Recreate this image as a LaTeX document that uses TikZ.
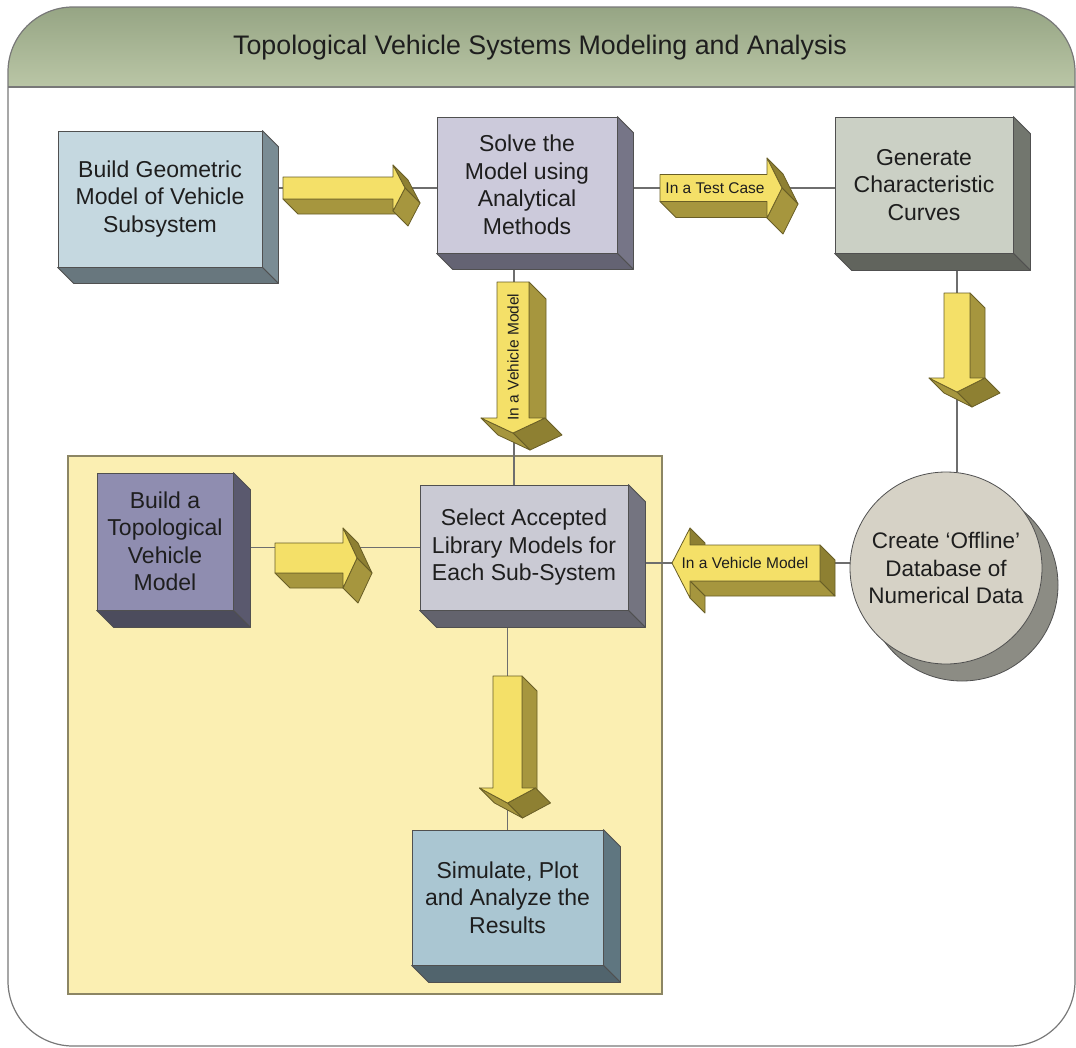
\documentclass[tikz,border=0pt]{standalone}
\usepackage{fontspec}
\setmainfont{Liberation Sans}
\usetikzlibrary{calc,shadows}
\pgfdeclarelayer{bg}
\pgfsetlayers{bg,main}

\definecolor{framegray}{RGB}{120,120,120}
\definecolor{titletop}{RGB}{150,165,132}
\definecolor{titlebot}{RGB}{186,198,166}
\definecolor{panelfill}{RGB}{251,239,178}
\definecolor{paneldraw}{RGB}{140,134,100}
\definecolor{wiregray}{RGB}{110,110,110}
\definecolor{edgegray}{RGB}{80,80,80}
\definecolor{arrowfront}{RGB}{244,224,104}
\definecolor{arrowside}{RGB}{166,150,62}
\definecolor{arrowdark}{RGB}{142,128,50}
\definecolor{arrowline}{RGB}{105,94,38}
\definecolor{buildfill}{RGB}{197,216,224}
\definecolor{buildside}{RGB}{122,140,148}
\definecolor{solvefill}{RGB}{204,202,219}
\definecolor{solveside}{RGB}{118,117,135}
\definecolor{genfill}{RGB}{203,208,197}
\definecolor{genside}{RGB}{114,118,110}
\definecolor{topofill}{RGB}{143,141,176}
\definecolor{toposide}{RGB}{90,89,110}
\definecolor{selfill}{RGB}{202,202,212}
\definecolor{selside}{RGB}{116,116,128}
\definecolor{simfill}{RGB}{170,198,210}
\definecolor{simside}{RGB}{95,118,128}
\definecolor{dbfill}{RGB}{214,210,198}
\definecolor{dbside}{RGB}{140,140,132}
\definecolor{textgray}{RGB}{30,30,30}

\tikzset{
	box/.style={draw=edgegray, line width=0.8pt, inner sep=0pt, align=center, text=textgray, font=\fontsize{23}{27.5}\selectfont},
	wire/.style={draw=wiregray, line width=1.2pt},
	arrowface/.style={fill=#1, draw=arrowline, line width=0.8pt, line join=round},
	arrowtext/.style={text=textgray, inner sep=0pt, font=\fontsize{15.5}{18}\selectfont}
}

% side and bottom faces of a box: node, depth, colour
\newcommand{\boxsides}[3]{%
	\filldraw[fill=#3, draw=edgegray, line width=0.8pt, line join=round] (#1.north east) -- ++(#2,#2) -- ($(#1.south east)+(#2,#2)$) -- (#1.south east) -- cycle;
	\filldraw[fill=#3!85!black, draw=edgegray, line width=0.8pt, line join=round] (#1.south west) -- ++(#2,#2) -- ($(#1.south east)+(#2,#2)$) -- (#1.south east) -- cycle;
}
% block arrows: tail, head start, tip, centre, half shaft, half head, depth
\newcommand{\blockright}[7]{%
	\filldraw[arrowface=arrowside] (#1,{#4+#5}) -- (#2,{#4+#5}) -- ({#2+#7},{#4+#5+#7}) -- ({#1+#7},{#4+#5+#7}) -- cycle;
	\filldraw[arrowface=arrowdark] (#2,{#4-#6}) -- (#3,#4) -- ({#3+#7},{#4+#7}) -- ({#2+#7},{#4-#6+#7}) -- cycle;
	\filldraw[arrowface=arrowside] (#2,{#4+#6}) -- (#3,#4) -- ({#3+#7},{#4+#7}) -- ({#2+#7},{#4+#6+#7}) -- cycle;
	\filldraw[arrowface=arrowfront] (#1,{#4-#5}) -- (#2,{#4-#5}) -- (#2,{#4-#6}) -- (#3,#4) -- (#2,{#4+#6}) -- (#2,{#4+#5}) -- (#1,{#4+#5}) -- cycle;
}
\newcommand{\blockdown}[7]{%
	\filldraw[arrowface=arrowside] ({#4+#5},#1) -- ({#4+#5},#2) -- ({#4+#5+#7},{#2+#7}) -- ({#4+#5+#7},{#1+#7}) -- cycle;
	\filldraw[arrowface=arrowdark] ({#4+#6},#2) -- (#4,#3) -- ({#4+#7},{#3+#7}) -- ({#4+#6+#7},{#2+#7}) -- cycle;
	\filldraw[arrowface=arrowside] ({#4-#6},#2) -- (#4,#3) -- ({#4+#7},{#3+#7}) -- ({#4-#6+#7},{#2+#7}) -- cycle;
	\filldraw[arrowface=arrowfront] ({#4-#5},#1) -- ({#4+#5},#1) -- ({#4+#5},#2) -- ({#4+#6},#2) -- (#4,#3) -- ({#4-#6},#2) -- ({#4-#5},#2) -- cycle;
}
\newcommand{\blockleft}[7]{%
	\filldraw[arrowface=arrowside] (#2,{#4+#5}) -- (#1,{#4+#5}) -- ({#1+#7},{#4+#5+#7}) -- ({#2+#7},{#4+#5+#7}) -- cycle;
	\filldraw[arrowface=arrowdark] (#1,{#4-#5}) -- (#1,{#4+#5}) -- ({#1+#7},{#4+#5+#7}) -- ({#1+#7},{#4-#5+#7}) -- cycle;
	\filldraw[arrowface=arrowdark] (#2,{#4-#6}) -- (#2,{#4-#5}) -- ({#2+#7},{#4-#5+#7}) -- ({#2+#7},{#4-#6+#7}) -- cycle;
	\filldraw[arrowface=arrowside] (#2,{#4+#5}) -- (#2,{#4+#6}) -- ({#2+#7},{#4+#6+#7}) -- ({#2+#7},{#4+#5+#7}) -- cycle;
	\filldraw[arrowface=arrowfront] (#1,{#4-#5}) -- (#2,{#4-#5}) -- (#2,{#4-#6}) -- (#3,#4) -- (#2,{#4+#6}) -- (#2,{#4+#5}) -- (#1,{#4+#5}) -- cycle;
}

\begin{document}
\begin{tikzpicture}[x=1pt, y=-1pt]
	\useasboundingbox (0,0) rectangle (1076,1047);

	% Boxes:
	\node[box, fill=buildfill, minimum width=204pt, minimum height=136pt] (build) at (160,199) {Build Geometric\\Model of Vehicle\\Subsystem};
	\boxsides{build}{16}{buildside}
	\node[box, fill=solvefill, minimum width=180pt, minimum height=136pt] (solve) at (527,185) {Solve the\\Model using\\Analytical\\Methods};
	\boxsides{solve}{16}{solveside}
	\node[box, fill=genfill, minimum width=178pt, minimum height=136pt] (gen) at (924,185) {Generate\\Characteristic\\Curves};
	\boxsides{gen}{17}{genside}
	\node[box, fill=topofill, minimum width=136pt, minimum height=137pt] (topo) at (165,541.5) {Build a\\Topological\\Vehicle\\Model};
	\boxsides{topo}{17}{toposide}
	\node[box, fill=selfill, minimum width=208pt, minimum height=125pt] (select) at (524,547.5) {Select Accepted\\Library Models for\\Each Sub-System};
	\boxsides{select}{17}{selside}
	\node[box, fill=simfill, minimum width=191pt, minimum height=135pt] (sim) at (507.5,897.5) {Simulate, Plot\\and Analyze the\\Results};
	\boxsides{sim}{17}{simside}
	\node[box, circle, fill=dbfill, minimum size=192pt, font=\fontsize{22.5}{27.5}\selectfont,
		drop shadow={shadow xshift=16pt, shadow yshift=-17pt, fill=dbside, draw=edgegray, opacity=1}] (db) at (946,568) {Create ‘Offline’\\Database of\\Numerical Data};

	\node[text=textgray, font=\fontsize{26.8}{30}\selectfont] (title) at (540,48) {Topological Vehicle Systems Modeling and Analysis};

	% Block arrows:
	\blockright{283}{393}{405}{188}{11}{23}{15}
	\blockright{660}{767}{782}{188}{13.5}{30}{16}
	\node[arrowtext] (testcase) at (715,188.5) {In a Test Case};
	\blockdown{293}{378}{392}{957}{13}{28}{15}
	\blockdown{282}{418}{433}{513}{16}{32}{17}
	\node[arrowtext, rotate=90] (vehdown) at (513,357) {In a Vehicle Model};
	\blockright{275}{343}{357}{558}{15}{30}{15}
	\blockleft{820}{690}{672}{563}{18}{35}{15}
	\node[arrowtext] (vehleft) at (745,563) {In a Vehicle Model};
	\blockdown{676}{788}{803}{507.5}{14.5}{28}{15}

	\begin{pgfonlayer}{bg}
		% frame and title bar
		\fill[white, rounded corners=65pt] (8,7) rectangle (1075,1046);
		\begin{scope}
			\clip[rounded corners=65pt] (8,7) rectangle (1075,1046);
			\shade[top color=titletop, bottom color=titlebot] (8,7) rectangle (1075,87);
		\end{scope}
		\draw[framegray, line width=1.2pt, rounded corners=65pt] (8,7) rectangle (1075,1046);
		\draw[framegray, line width=1.2pt] (8,87) -- (1075,87);
		\filldraw[fill=panelfill, draw=paneldraw, line width=1.2pt] (68,456) rectangle (662,994);
		% connectors
		\draw[wire] ([yshift=-3pt]solve.west) -- ([yshift=-3pt]solve.west -| build.east);
		\draw[wire] ([yshift=-3pt]solve.east) -- ([yshift=-3pt]gen.west);
		\draw[wire] ([xshift=33pt]gen.south) -- ([xshift=11pt]db.north);
		\draw[wire] ([xshift=-13pt]solve.south) -- ([xshift=-10pt]select.north);
		\draw[wire] (select.west) -- (select.west -| topo.east);
		\draw[wire] ([yshift=5pt]db.west) -- ([yshift=5pt]db.west -| select.east);
		\draw[wire] (sim.north) -- (sim.north |- select.south);
	\end{pgfonlayer}
\end{tikzpicture}
\end{document}
